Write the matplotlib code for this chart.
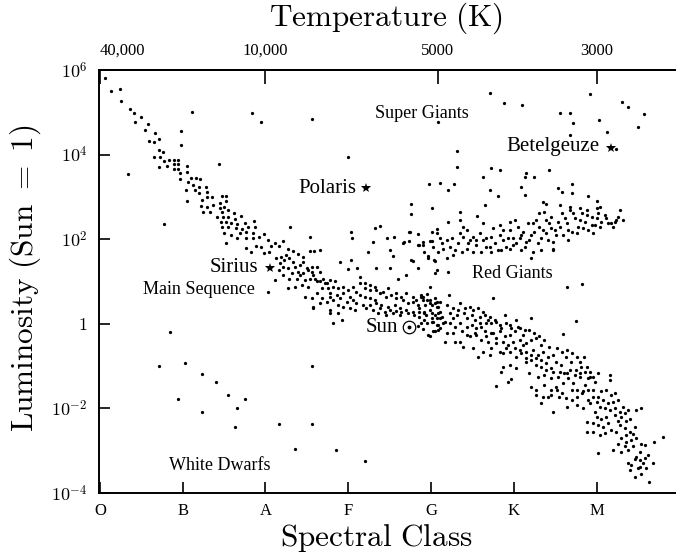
import numpy as np
import matplotlib
matplotlib.use('Agg')
import matplotlib.pyplot as plt

plt.rcParams['mathtext.fontset'] = 'cm'
plt.rcParams['font.family'] = ['Liberation Serif', 'DejaVu Serif']

# Axis labels / ticks
spectral_classes = ['O', 'B', 'A', 'F', 'G', 'K', 'M']
temp_labels = ['40,000', '10,000', '5000', '3000']
temp_pos = [0.0, 2.0, 4.08, 6.0]
lum_exponents = [6, 4, 2, 0, -2, -4]
lum_labels = [r'$10^6$', r'$10^4$', r'$10^2$', r'$1$', r'$10^{-2}$', r'$10^{-4}$']

# Stars as (spectral position, log10 luminosity)
upper_main_seq = [
    (0.06, 5.80), (0.14, 5.51), (0.24, 5.54), (0.25, 5.27), (0.36, 5.08), (0.41, 4.98),
    (0.50, 4.89), (0.43, 4.76), (0.58, 4.73), (0.55, 4.59), (0.67, 4.50), (0.59, 4.32),
    (0.66, 4.29), (0.71, 4.36), (0.72, 4.11), (0.76, 4.05), (0.65, 3.95), (0.73, 3.94),
    (0.78, 3.84), (0.83, 3.87), (0.89, 3.87), (0.95, 3.87), (0.72, 3.71), (0.81, 3.74),
    (0.89, 3.78), (0.95, 3.77), (0.89, 3.67), (0.94, 3.67), (1.05, 3.74), (0.97, 3.56),
    (1.05, 3.60), (0.97, 3.42), (1.10, 3.45), (1.16, 3.45), (1.21, 3.42), (1.07, 3.35),
    (1.12, 3.27), (1.04, 3.16), (1.15, 3.16), (1.20, 3.23), (1.28, 3.24), (1.20, 3.10),
    (1.30, 3.12), (1.05, 2.90), (1.23, 2.93), (1.29, 3.00), (1.36, 3.00), (1.47, 3.02),
    (1.53, 3.02), (1.22, 2.78), (1.29, 2.77), (1.37, 2.80), (1.45, 2.86), (1.53, 2.91),
    (1.25, 2.65), (1.33, 2.65), (1.45, 2.73), (1.50, 2.77), (1.48, 2.65), (1.55, 2.69),
    (1.62, 2.63), (1.42, 2.53), (1.49, 2.53), (1.55, 2.53), (1.63, 2.48), (1.71, 2.56),
    (1.46, 2.41), (1.53, 2.41), (1.59, 2.38), (1.66, 2.35), (1.75, 2.38), (1.86, 2.43),
    (1.47, 2.30), (1.55, 2.28), (1.65, 2.26), (1.72, 2.23), (1.79, 2.30), (1.87, 2.30),
    (1.50, 2.14), (1.58, 2.10), (1.69, 2.15), (1.77, 2.18), (1.85, 2.15), (1.98, 2.12),
    (1.52, 1.92), (1.66, 2.04), (1.76, 2.04), (1.85, 2.02), (1.92, 2.06), (2.03, 1.98),
    (1.77, 1.80), (1.89, 1.85), (1.95, 1.81), (2.07, 1.84), (1.83, 1.70), (1.98, 1.68),
    (2.04, 1.70),
]

middle_main_seq = [
    (2.13, 1.55), (2.19, 1.59), (2.23, 1.51), (2.18, 1.43), (2.25, 1.63), (2.29, 1.55),
    (2.33, 1.47), (2.21, 1.35), (2.27, 1.31), (2.36, 1.35), (2.42, 1.39), (2.46, 1.47),
    (2.32, 1.19), (2.39, 1.23), (2.46, 1.19), (2.52, 1.27), (2.56, 1.35), (2.62, 1.35),
    (2.66, 1.23), (2.58, 1.15), (2.38, 1.07), (2.48, 1.04), (2.54, 1.07), (2.62, 1.00),
    (2.27, 0.84), (2.36, 0.88), (2.44, 0.92), (2.52, 0.88), (2.70, 1.07), (2.74, 0.96),
    (2.78, 1.04), (2.84, 1.00), (2.68, 0.84), (2.76, 0.84), (2.82, 0.88), (2.88, 0.84),
    (2.94, 0.88), (3.00, 0.80), (3.06, 0.88), (3.10, 0.76), (2.78, 0.72), (2.86, 0.68),
    (2.94, 0.72), (3.02, 0.64), (2.78, 0.64), (2.90, 0.60), (2.98, 0.52), (3.06, 0.56),
    (3.14, 0.96), (3.20, 0.84), (3.26, 0.80), (3.32, 0.88), (3.14, 0.68), (3.20, 0.64),
    (3.26, 0.60), (3.32, 0.56), (3.10, 0.48), (3.18, 0.44), (3.26, 0.44), (3.34, 0.48),
    (3.38, 0.72), (3.46, 0.64), (3.52, 0.68), (3.58, 0.60), (3.40, 0.44), (3.48, 0.40),
    (3.56, 0.44), (3.62, 0.37), (3.36, 0.25), (3.46, 0.21), (3.54, 0.25), (3.62, 0.21),
    (3.66, 0.56), (3.72, 0.48), (3.78, 0.52), (3.84, 0.44), (3.70, 0.33), (3.78, 0.29),
    (3.86, 0.37), (3.92, 0.29), (3.90, 0.64), (3.99, 0.56), (4.05, 0.48), (4.09, 0.40),
    (3.94, 0.21), (4.01, 0.25), (4.07, 0.13), (2.88, 0.25), (2.92, 0.09), (2.82, 0.01),
    (2.58, 0.40), (2.66, 0.48), (2.78, 0.33), (2.48, 0.64), (2.56, 0.60), (2.03, 0.76),
    (2.11, 1.04), (3.84, -0.05), (3.90, -0.13), (3.99, -0.29), (4.05, -0.17), (4.11, -0.09),
    (4.09, 0.25), (4.11, 0.13), (2.11, 1.90), (2.17, 1.85), (2.21, 1.96), (2.27, 1.78),
    (2.33, 1.72), (2.39, 1.64), (2.46, 1.59), (2.58, 0.37), (2.78, 0.25), (2.54, 1.72),
    (2.59, 1.72), (2.66, 1.74),
    (3.20, 0.96), (3.26, 0.92), (3.34, 0.80), (3.42, 0.76), (3.48, 0.84), (3.58, 0.72),
    (3.64, 0.64), (3.70, 0.72), (3.78, 0.64), (3.82, 0.56), (3.88, 0.64), (3.95, 0.56),
    (4.01, 0.44), (4.07, 0.52), (3.22, 0.37), (3.30, 0.33), (3.38, 0.37), (3.44, 0.29),
    (3.50, 0.33), (3.58, 0.30), (3.64, 0.27), (3.72, 0.25), (3.80, 0.21), (3.86, 0.17),
    (3.92, 0.09), (4.01, 0.05), (4.07, -0.03), (2.62, 0.72), (2.68, 0.60), (2.74, 0.52),
    (2.82, 0.56), (2.88, 0.44), (2.94, 0.40), (3.02, 0.37), (3.08, 0.33), (2.42, 1.15),
    (2.50, 1.31), (2.56, 1.23), (2.60, 1.07), (2.66, 1.00), (2.72, 0.96), (2.29, 1.07),
    (2.21, 1.15), (2.17, 1.27),
]

lower_main_seq = [
    (3.88, 0.68), (3.95, 0.70), (3.90, 0.56), (3.99, 0.48), (4.05, 0.60), (4.11, 0.52),
    (3.86, 0.29), (3.92, 0.25), (3.99, 0.33), (4.05, 0.21), (4.11, 0.29), (3.88, 0.01),
    (3.95, 0.01), (4.03, 0.05), (4.09, -0.03), (4.15, 0.01), (3.97, -0.26), (4.03, -0.18),
    (4.09, -0.15), (4.22, 0.68), (4.35, 0.48), (4.47, 0.40), (4.19, 0.44), (4.23, 0.25),
    (4.27, 0.37), (4.31, 0.21), (4.17, 0.05), (4.23, 0.01), (4.29, -0.07), (4.35, 0.01),
    (4.19, -0.22), (4.27, -0.22), (4.37, -0.18), (4.43, -0.26), (4.17, -0.44), (4.29, -0.42),
    (4.35, -0.42), (4.40, 0.25), (4.43, 0.13), (4.49, 0.21), (4.53, 0.09), (4.59, 0.17),
    (4.43, -0.07), (4.49, -0.03), (4.55, -0.11), (4.61, -0.07), (4.67, 0.01), (4.47, -0.30),
    (4.55, -0.26), (4.61, -0.38), (4.67, -0.30), (4.73, -0.22), (4.39, -0.54), (4.51, -0.58),
    (4.63, -0.66), (4.57, -0.78), (4.71, -0.74), (4.65, 0.21), (4.71, 0.17), (4.77, 0.09),
    (4.83, -0.03), (4.75, 0.60), (4.89, 0.21), (4.95, -0.03), (5.03, 0.09), (5.05, -0.07),
    (4.75, -0.22), (4.83, -0.18), (4.89, -0.30), (4.95, -0.26), (5.01, -0.18), (4.79, -0.46),
    (4.87, -0.42), (4.93, -0.50), (4.99, -0.42), (5.07, -0.38), (5.11, -0.26), (5.15, -0.46),
    (5.21, -0.38), (5.27, -0.34), (5.33, -0.50), (4.87, -0.70), (4.95, -0.66), (5.03, -0.78),
    (5.09, -0.70), (5.15, -0.82), (4.87, -1.01), (4.95, -0.97), (5.03, -1.05), (5.15, -0.90),
    (5.21, -0.86), (4.85, -1.13), (4.93, -1.37), (4.97, -1.31), (5.23, -0.62), (5.29, -0.74),
    (5.35, -0.66), (5.41, -0.78), (5.47, -0.74), (5.27, -0.97), (5.33, -1.01), (5.39, -0.93),
    (5.45, -1.05), (5.51, -0.90), (5.57, -0.97), (5.19, -1.17), (5.29, -1.25), (5.37, -1.21),
    (5.45, -1.29), (5.53, -1.25), (5.61, -1.17), (5.27, -1.56), (5.37, -1.45), (5.45, -1.56),
    (5.51, -1.49), (5.59, -1.41), (5.33, -1.88), (5.45, -1.68), (5.47, -2.08), (5.55, -1.72),
    (5.63, -1.76), (5.63, -0.78), (5.69, -0.90), (5.75, -1.09), (5.81, -1.01), (5.85, -0.78),
    (5.65, -1.29), (5.71, -1.41), (5.80, -1.25), (5.86, -1.45), (5.92, -1.25), (5.98, -1.37),
    (5.70, -1.56), (5.76, -1.72), (5.84, -1.60), (5.90, -1.80), (5.96, -1.56), (6.02, -1.72),
    (5.76, -1.92), (5.84, -2.00), (5.92, -1.88), (5.98, -2.08), (6.04, -1.96),
    (3.93, 0.44), (4.07, 0.40), (4.13, 0.17), (4.01, 0.13), (4.27, 0.13), (4.33, 0.33),
    (4.41, 0.37), (4.51, 0.33), (4.57, 0.37), (4.63, 0.29), (4.69, 0.09), (4.73, 0.01),
    (4.79, 0.05), (4.85, -0.11), (4.91, 0.01), (4.97, -0.11), (5.07, -0.11), (5.13, -0.15),
    (5.19, -0.15), (5.25, -0.22), (5.31, -0.30), (5.37, -0.38), (5.43, -0.54), (5.52, -0.58),
    (5.58, -0.66), (5.64, -0.62), (5.70, -0.70), (5.76, -0.78), (5.80, -0.90), (5.88, -1.01),
    (5.92, -1.13), (5.96, -1.25), (6.02, -1.17), (4.59, 0.01), (4.53, -0.22), (4.65, -0.18),
    (4.69, -0.42), (4.79, -0.34), (4.73, -0.58), (4.83, -0.66), (4.91, -0.58), (5.01, -0.58),
    (5.07, -0.62), (5.11, -0.50), (5.15, -0.66), (5.21, -0.74), (5.27, -0.82), (5.33, -0.86),
    (5.39, -1.09), (5.47, -1.13), (5.56, -1.13), (5.64, -1.17), (5.68, -1.09), (5.74, -1.21),
    (5.80, -1.17), (5.86, -1.13), (5.90, -1.29), (5.76, -1.56), (5.82, -1.64), (5.90, -1.56),
    (5.96, -1.72), (6.00, -1.84), (5.70, -1.80), (5.64, -1.96), (5.58, -1.64), (5.52, -1.56),
    (5.41, -1.72), (5.35, -1.72), (5.27, -1.68), (5.21, -1.49),
]

red_dwarf_tail = [
    (6.16, -1.21), (6.16, -1.33), (6.06, -1.60), (6.12, -1.56), (6.18, -1.68), (6.22, -1.64),
    (6.08, -1.80), (6.14, -1.88), (6.20, -1.84), (6.26, -1.80), (6.10, -2.00), (6.16, -2.04),
    (6.22, -2.00), (6.28, -2.08), (6.32, -1.96), (6.38, -2.04), (6.22, -2.16), (6.30, -2.20),
    (6.34, -2.12), (6.40, -2.24), (6.48, -2.04), (6.54, -2.00), (5.88, -2.31), (5.96, -2.35),
    (6.02, -2.39), (6.08, -2.43), (6.14, -2.35), (5.88, -2.55), (5.96, -2.55), (6.04, -2.63),
    (6.10, -2.59), (6.18, -2.51), (6.24, -2.55), (6.28, -2.39), (6.34, -2.47), (6.40, -2.55),
    (6.46, -2.43), (6.30, -2.71), (6.36, -2.79), (6.42, -2.75), (6.48, -2.71), (6.54, -2.83),
    (6.20, -2.98), (6.30, -3.02), (6.38, -2.98), (6.44, -2.90), (6.52, -3.02), (6.58, -2.86),
    (6.48, -3.14), (6.52, -3.22), (6.58, -3.18), (6.62, -3.10), (6.42, -3.34), (6.50, -3.42),
    (6.52, -3.38), (6.60, -3.42), (6.68, -3.30), (6.40, -3.46), (6.54, -3.56), (6.46, -3.63),
    (6.63, -3.73), (6.70, -2.79), (6.80, -2.68),
    (6.00, -2.20), (6.06, -2.25), (6.12, -2.20), (6.26, -2.30), (6.36, -2.30), (6.44, -2.60),
    (6.26, -2.85), (6.34, -2.90), (6.38, -3.30), (6.56, -3.30), (6.46, -3.20), (6.36, -2.62),
]

red_giants = [
    (4.13, 1.90), (4.19, 1.98), (4.25, 2.02), (4.23, 1.82), (4.29, 1.74), (4.33, 1.90),
    (4.27, 1.63), (4.37, 1.70), (4.43, 1.78), (4.47, 1.98), (4.51, 2.06), (4.55, 1.86),
    (4.59, 2.14), (4.63, 1.98), (4.67, 1.82), (4.73, 2.06), (4.77, 1.90), (4.81, 1.74),
    (4.83, 2.10), (4.87, 1.98), (4.91, 1.82), (4.95, 2.22), (4.99, 2.02), (5.03, 1.90),
    (5.05, 2.30), (5.09, 2.10), (5.13, 1.82), (5.17, 2.38), (5.19, 1.98), (5.25, 2.18),
    (5.27, 2.45), (5.31, 2.30), (5.33, 2.02), (5.37, 2.65), (5.39, 2.14), (5.43, 2.38),
    (5.45, 2.53), (5.47, 1.94), (5.50, 2.22), (5.54, 2.41), (5.58, 2.61), (5.60, 2.10),
    (5.64, 2.38), (5.68, 2.69), (5.70, 2.18), (5.74, 2.49), (5.78, 2.30), (5.82, 2.61),
    (5.86, 2.41), (5.90, 2.22), (5.94, 2.53), (5.98, 2.34), (6.02, 2.61), (6.06, 2.41),
    (6.12, 2.49), (6.18, 2.38), (6.24, 2.45), (6.28, 2.69), (6.32, 2.45), (5.88, 2.69),
    (6.00, 2.73), (5.80, 2.73), (5.68, 2.77), (5.56, 2.81), (5.39, 2.83), (5.35, 2.89),
    (4.95, 2.41), (5.01, 2.45), (4.83, 2.34), (4.75, 2.26), (4.43, 2.22), (4.35, 2.14),
    (4.51, 1.70), (4.61, 1.70), (4.73, 1.70), (4.85, 1.74), (4.95, 1.78), (5.09, 1.74),
    (5.23, 1.70), (5.33, 1.74), (5.47, 1.78), (5.65, 1.98), (5.21, 1.55), (4.19, 1.55),
    (4.21, 2.41), (4.35, 2.45), (4.39, 2.30), (4.56, 2.55), (4.63, 2.38), (4.87, 2.22),
    (4.93, 2.02), (4.99, 1.86), (5.07, 2.02), (5.11, 2.18), (5.15, 1.94), (5.21, 2.10),
    (5.23, 2.38), (5.29, 1.90), (5.31, 2.61), (5.35, 2.22), (5.39, 2.45), (5.41, 1.98),
    (5.45, 2.26), (5.51, 2.10), (5.56, 2.30), (5.62, 2.49), (5.66, 2.22), (5.72, 2.61),
    (5.76, 2.14), (5.80, 2.45), (5.84, 2.26), (5.88, 2.57), (5.94, 2.34), (6.00, 2.49),
    (6.04, 2.30), (6.10, 2.57), (6.14, 2.38), (6.22, 2.41), (6.26, 2.53), (6.20, 2.30),
    (5.96, 2.14), (4.67, 2.02), (4.71, 1.82), (4.55, 1.98), (4.45, 1.90), (4.39, 2.06),
    (4.15, 1.78), (4.09, 1.70), (4.03, 1.82), (3.92, 1.70),
]

subgiants = [
    (2.30, 2.30), (2.54, 2.06), (3.04, 2.16), (3.05, 2.02), (3.32, 2.27), (3.38, 2.31),
    (3.30, 1.94), (3.47, 2.02), (3.55, 2.06), (3.67, 1.93), (3.75, 2.16), (3.84, 1.86),
    (3.90, 1.94), (3.99, 1.96), (4.01, 2.16), (4.07, 2.24), (3.24, 1.69), (3.50, 1.74),
    (3.54, 1.61), (3.78, 1.48), (3.97, 1.61), (4.04, 1.51), (2.90, 1.47), (3.04, 1.51),
    (3.00, 1.30), (3.11, 1.31), (3.34, 1.33), (3.50, 1.31), (3.84, 1.33), (4.05, 1.19),
    (3.70, 1.15), (3.60, 1.07), (3.14, 1.11), (3.76, 2.83), (3.76, 2.59), (4.01, 2.73),
    (4.35, 2.64), (4.65, 2.81), (3.74, 2.18), (3.74, 1.96), (3.66, 1.90), (3.76, 1.51),
    (3.84, 2.12), (3.86, 1.86), (3.90, 1.86), (3.97, 1.55), (4.05, 1.48), (4.01, 1.96),
    (4.07, 2.14), (4.11, 2.02), (5.47, 1.74), (5.64, 0.86), (5.82, 0.94), (4.07, 1.27),
    (4.21, 1.23), (3.99, 0.88), (3.98, 3.30), (4.11, 3.32), (4.21, 3.16), (4.28, 3.30),
    (4.71, 3.16), (4.81, 3.02), (5.09, 3.24), (5.13, 3.04), (5.53, 3.20), (5.58, 3.12),
    (5.70, 3.30), (5.70, 3.09), (5.90, 3.02), (6.00, 2.91), (6.04, 2.77),
]

supergiants = [
    (4.71, 5.45), (4.88, 5.21), (5.10, 5.17), (5.56, 4.99), (5.68, 4.98), (5.72, 4.74),
    (5.92, 5.43), (6.03, 4.82), (6.13, 4.53), (6.31, 5.25), (6.38, 5.13), (6.57, 4.96),
    (6.50, 4.65), (5.68, 4.46), (4.09, 4.76), (4.32, 4.09), (4.31, 3.70), (4.63, 3.46),
    (4.73, 3.68), (4.84, 3.64), (5.15, 3.57), (5.14, 3.48), (5.24, 3.48), (5.43, 3.64),
    (6.24, 4.13), (3.00, 3.95), (2.56, 4.84), (1.11, 5.01), (1.84, 4.98), (1.95, 4.76),
    (0.98, 4.56), (0.98, 4.22), (1.44, 3.77), (0.34, 3.55), (0.77, 2.35),
]

white_dwarfs = [
    (0.85, -0.20), (0.71, -0.99), (1.03, -0.93), (1.23, -1.19), (1.40, -1.38), (0.95, -1.78),
    (1.55, -1.68), (1.75, -1.77), (1.66, -2.00), (1.23, -2.09), (1.63, -2.43), (2.16, -2.37),
    (2.56, -2.37), (2.36, -2.96), (2.85, -2.98), (3.20, -3.24), (2.56, -0.99),
]

stragglers = [(4.78, -1.47), (5.21, 0.13), (5.75, 0.07), (5.59, -0.25), (6.02, -3.05)]

# Named stars: (spectral position, log10 L)
polaris = (3.21, 3.21)
sirius = (2.05, 1.32)
betelgeuze = (6.18, 4.16)
sun = (3.74, -0.08)

fig = plt.figure(figsize=(6.76, 5.57), dpi=100)
ax = fig.add_axes([99 / 676, 1 - 493 / 557, 1 - 99 / 676, (493 - 70) / 557])
ax.set_yscale('log')
ax.set_xlim(-0.01, 6.96)
ax.set_ylim(1e-4, 1e6)

# Plot all the groups of stars
groups = [upper_main_seq, middle_main_seq, lower_main_seq, red_dwarf_tail,
          red_giants, subgiants, supergiants, white_dwarfs, stragglers]
for grp in groups:
    xs = np.array([p[0] for p in grp])
    ls = np.array([p[1] for p in grp])
    ax.scatter(xs, 10.0 ** ls, s=5.5, c='k', linewidths=0)

for star in (polaris, sirius, betelgeuze):
    ax.plot(star[0], 10.0 ** star[1], marker='*', ms=7, color='k', mew=0)
ax.plot(sun[0], 10.0 ** sun[1], marker='o', ms=9, mfc='none', mec='k', mew=0.9)
ax.plot(sun[0], 10.0 ** sun[1], marker='o', ms=1.8, color='k')

# Region / star labels
ax.text(3.89, 10 ** 4.98, 'Super Giants', ha='center', va='center', fontsize=13)
ax.text(6.04, 10 ** 4.18, 'Betelgeuze', ha='right', va='center', fontsize=15)
ax.text(3.10, 10 ** 3.21, 'Polaris', ha='right', va='center', fontsize=15)
ax.text(1.91, 10 ** 1.32, 'Sirius', ha='right', va='center', fontsize=15)
ax.text(1.87, 10 ** 0.80, 'Main Sequence', ha='right', va='center', fontsize=13)
ax.text(4.98, 10 ** 1.20, 'Red Giants', ha='center', va='center', fontsize=13)
ax.text(3.60, 10 ** -0.08, 'Sun', ha='right', va='center', fontsize=15)
ax.text(1.45, 10 ** -3.34, 'White Dwarfs', ha='center', va='center', fontsize=13)

# Axes and ticks
ax.spines['right'].set_visible(False)
for s in ('left', 'bottom', 'top'):
    ax.spines[s].set_linewidth(1.4)
ax.minorticks_off()
ax.set_xticks(range(len(spectral_classes)))
ax.set_xticklabels(spectral_classes)
ax.tick_params(axis='x', direction='in', length=8, width=1.2, pad=7, labelsize=12)
ax.set_yticks([10.0 ** e for e in lum_exponents])
ax.set_yticklabels(lum_labels)
ax.tick_params(axis='y', direction='in', length=8, width=1.2, pad=8, labelsize=13)
ax.yaxis.set_minor_locator(matplotlib.ticker.NullLocator())

top = ax.secondary_xaxis('top')
top.set_xticks(temp_pos, labels=temp_labels)
top.tick_params(direction='in', length=10, width=1.2, pad=8, labelsize=12)
top.spines['top'].set_linewidth(1.4)
top.get_xticklabels()[0].set_horizontalalignment('left')

fig.text(0.571, 0.968, r'$\mathrm{Temperature\ (K)}$', ha='center', va='center', fontsize=22.5)
fig.text(0.556, 0.034, r'$\mathrm{Spectral\ Class}$', ha='center', va='center', fontsize=22.5)
fig.text(0.038, 0.5, r'$\mathrm{Luminosity\ (Sun}\ =\ \mathrm{1)}$', ha='center', va='center',
         rotation=90, fontsize=22.5)

fig.savefig('out.png', dpi=100)
